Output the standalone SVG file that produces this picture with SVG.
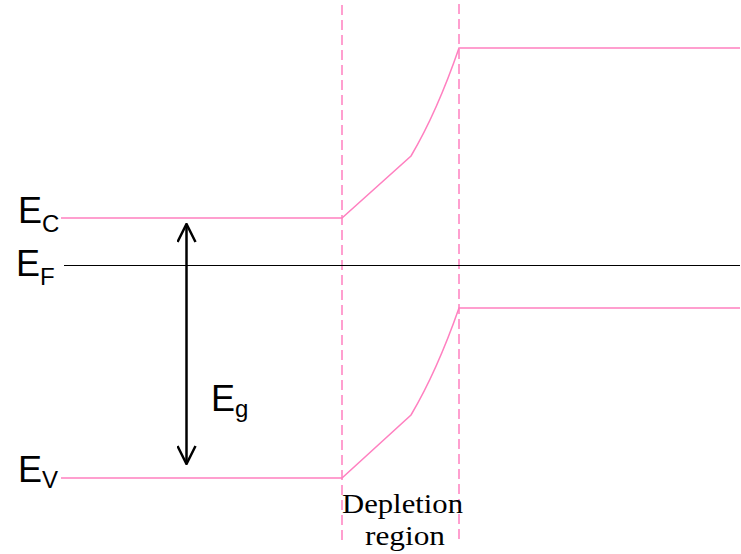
<svg xmlns="http://www.w3.org/2000/svg" width="741" height="554" viewBox="0 0 741 554">
<style>
.band{fill:none;stroke:#ff80c0;stroke-width:1.5}
.dash{fill:none;stroke:#ff80c0;stroke-width:1.5;stroke-dasharray:10 5}
.lbl{font-family:"Liberation Sans",Arial,sans-serif;fill:#000}
.big{font-size:36px}
.sub{font-size:24px}
.dep{font-family:"Liberation Serif","Times New Roman",serif;font-size:28px;fill:#000}
</style>
<defs>
<marker id="ah" viewBox="0 0 20 20" refX="19" refY="10" markerWidth="20" markerHeight="20" markerUnits="userSpaceOnUse" orient="auto-start-reverse">
<path d="M1,1 L19,10 L1,19" fill="none" stroke="#000" stroke-width="2.5"/>
</marker>
</defs>
<rect width="741" height="554" fill="#fff"/>
<g id="connectors">
<line id="depl-left" class="dash" x1="342" y1="5" x2="342" y2="542"/>
<line id="depl-right" class="dash" x1="459" y1="4" x2="459" y2="542"/>
<path id="ec-band" class="band" d="M61,218 H342 L411,156 Q437,112 459,48 H740"/>
<path id="ev-band" class="band" d="M61,478 H342 L411,415 Q437,371 459,308 H740"/>
<line id="ef-line" x1="64" y1="265.5" x2="740" y2="265.5" stroke="#000" stroke-width="1.2"/>
<line id="eg-arrow" x1="186.5" y1="224" x2="186.5" y2="464" stroke="#000" stroke-width="2.5" marker-start="url(#ah)" marker-end="url(#ah)"/>
</g>
<g id="label-ec"><text class="lbl" x="18" y="223"><tspan class="big">E</tspan><tspan class="sub" dy="9">C</tspan></text></g>
<g id="label-ef"><text class="lbl" x="16" y="276"><tspan class="big">E</tspan><tspan class="sub" dy="9">F</tspan></text></g>
<g id="label-ev"><text class="lbl" x="18" y="482"><tspan class="big">E</tspan><tspan class="sub" dy="6">V</tspan></text></g>
<g id="label-eg"><text class="lbl" x="211" y="411"><tspan class="big">E</tspan><tspan class="sub" dy="6">g</tspan></text></g>
<g id="label-depletion">
<text class="dep" x="342" y="513" textLength="121" lengthAdjust="spacingAndGlyphs">Depletion</text>
<text class="dep" x="365" y="545" textLength="80" lengthAdjust="spacingAndGlyphs">region</text>
</g>
</svg>
